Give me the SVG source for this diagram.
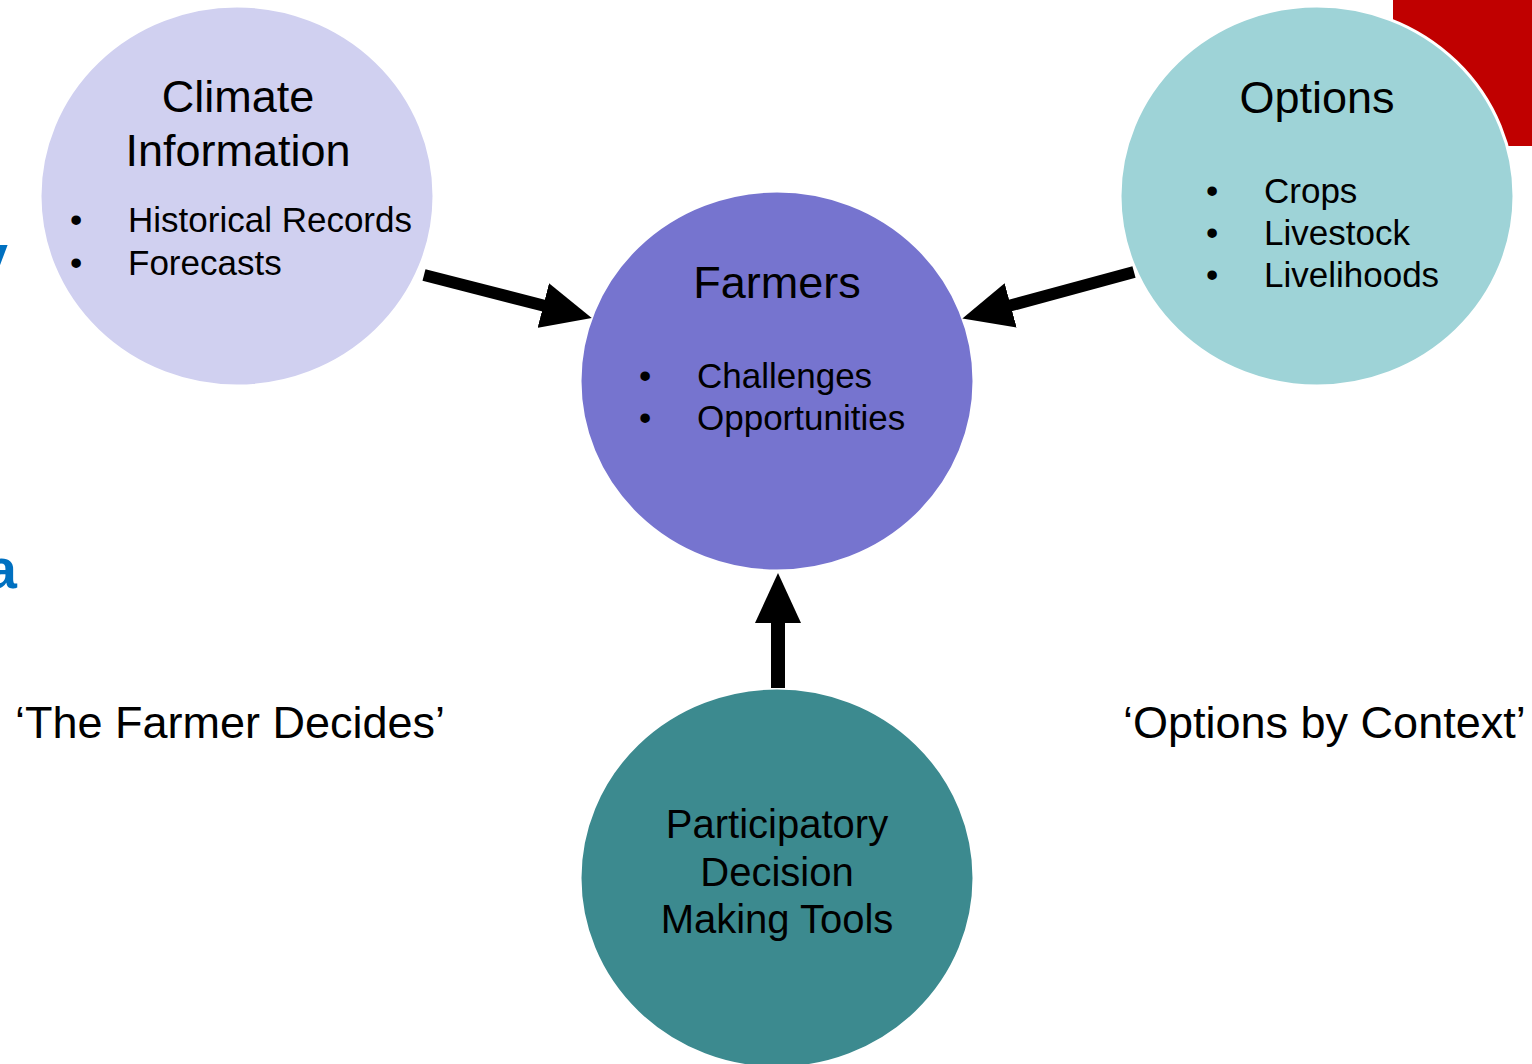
<svg xmlns="http://www.w3.org/2000/svg" width="1532" height="1064" viewBox="0 0 1532 1064">
<style>
text{font-family:"Liberation Sans",Arial,sans-serif;fill:#000}
.title{font-size:45px;text-anchor:middle}
.item{font-size:35px}
.big{font-size:45px}
.frag{font-size:56px;font-weight:bold;fill:#0070C0;text-anchor:end}
.node{stroke:#fff;stroke-width:3}
.conn{stroke:#000;fill:none}
</style>
<defs>
<marker id="head" viewBox="0 0 50 46" refX="10" refY="23" markerWidth="50" markerHeight="46" markerUnits="userSpaceOnUse" orient="auto">
<path d="M0,0 L50,23 L0,46 Z" fill="#000"/>
</marker>
</defs>
<rect width="1532" height="1064" fill="#fff"/>
<rect x="1393" y="0" width="139" height="146" fill="#C00000"/>
<text class="frag" x="8" y="274">y</text>
<text class="frag" x="17" y="588">a</text>

<g id="climate">
<ellipse class="node" cx="237" cy="196" rx="197" ry="190" fill="#D0D0F0"/>
<text class="title" x="238" y="112">Climate</text>
<text class="title" x="238" y="166">Information</text>
<text class="item" x="70" y="232">•</text>
<text class="item" x="128" y="232">Historical Records</text>
<text class="item" x="70" y="275">•</text>
<text class="item" x="128" y="275">Forecasts</text>
</g>

<g id="options">
<ellipse class="node" cx="1317" cy="196" rx="197" ry="190" fill="#9ED3D7"/>
<text class="title" x="1317" y="113">Options</text>
<text class="item" x="1206" y="203">•</text>
<text class="item" x="1264" y="203">Crops</text>
<text class="item" x="1206" y="245">•</text>
<text class="item" x="1264" y="245">Livestock</text>
<text class="item" x="1206" y="287">•</text>
<text class="item" x="1264" y="287">Livelihoods</text>
</g>

<g id="farmers">
<ellipse class="node" cx="777" cy="381" rx="197" ry="190" fill="#7674CF"/>
<text class="title" x="777" y="298">Farmers</text>
<text class="item" x="639" y="388">•</text>
<text class="item" x="697" y="388">Challenges</text>
<text class="item" x="639" y="430">•</text>
<text class="item" x="697" y="430">Opportunities</text>
</g>

<g id="tools">
<ellipse class="node" cx="777" cy="878" rx="197" ry="190" fill="#3C8A8F"/>
<text class="title" x="777" y="838" style="font-size:40px">Participatory</text>
<text class="title" x="777" y="886" style="font-size:40px">Decision</text>
<text class="title" x="777" y="933" style="font-size:40px">Making Tools</text>
</g>

<g id="labels">
<text class="big" x="15" y="738">‘The Farmer Decides’</text>
<text class="big" x="1123" y="738">‘Options by Context’</text>
</g>

<g id="connectors">
<line class="conn" x1="424" y1="275" x2="553" y2="308" stroke-width="12" marker-end="url(#head)"/>
<line class="conn" x1="1134" y1="272" x2="1001" y2="308" stroke-width="12" marker-end="url(#head)"/>
<line class="conn" x1="778" y1="688" x2="778" y2="613" stroke-width="14" marker-end="url(#head)"/>
</g>
</svg>
